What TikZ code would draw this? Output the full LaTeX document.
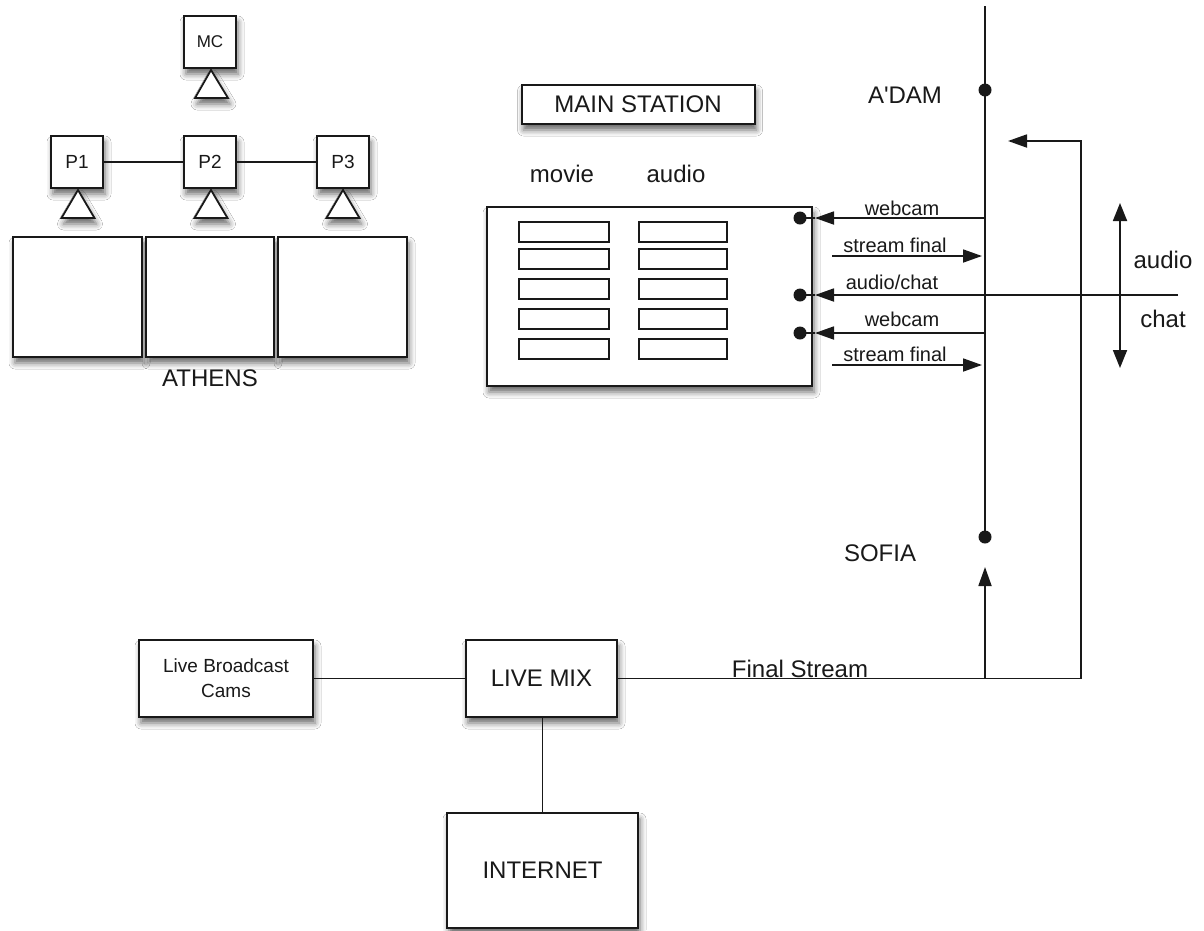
\documentclass[tikz,border=0pt]{standalone}
\usepackage{fontspec}
\setmainfont{Liberation Sans}
\newfontfamily\rawsans{Liberation Sans}[Ligatures=TeXOff]
\usetikzlibrary{arrows.meta,shadows.blur}
\begin{document}
\begin{tikzpicture}[x=1pt,y=-1pt,
  shade box/.style={blur shadow={shadow xshift=2pt,shadow yshift=-6pt,shadow blur radius=6pt,shadow opacity=60}},
  box/.style={draw=black!90,fill=white,line width=2pt,inner sep=0pt,shade box,text=black!90},
  slot/.style={draw=black!90,fill=white,line width=1.8pt,inner sep=0pt,minimum width=#1,minimum height=20pt},
  tri/.style={draw=black!90,fill=white,line width=1.8pt,line join=miter,shade box},
  wire/.style={draw=black!90,line width=1.8pt},
  arr/.style={wire,-{Triangle[length=19pt,width=13pt]}},
  dbl/.style={wire,{Triangle[length=18pt,width=14pt]}-{Triangle[length=18pt,width=14pt]}},
  dot/.style={fill=black!90},
  big/.style={font=\fontsize{24}{28}\selectfont,text=black!90,inner sep=0pt},
  small/.style={font=\fontsize{20}{23}\selectfont,text=black!90,inner sep=0pt},
]
% canvas
\path[use as bounding box,fill=white] (0,0) rectangle (1204,930);

% ---------------- Athens group ----------------
\node[box,minimum width=52pt,minimum height=52pt,font=\fontsize{17}{20}\selectfont] (mc) at (210,42) {MC};
\draw[tri] (211,70) -- (228,98) -- (195,98) -- cycle;

\node[box,minimum width=52pt,minimum height=52pt,font=\fontsize{19}{22}\selectfont] (p1) at (77,162) {P1};
\node[box,minimum width=52pt,minimum height=52pt,font=\fontsize{19}{22}\selectfont] (p2) at (210,162) {P2};
\node[box,minimum width=52pt,minimum height=52pt,font=\fontsize{19}{22}\selectfont] (p3) at (343,162) {P3};
\draw[wire] (p1) -- (p2);
\draw[wire] (p2) -- (p3);
\foreach \cx in {78,211,343}{
  \draw[tri] (\cx,190) -- (\cx+16.5,218) -- (\cx-16.5,218) -- cycle;
}

\node[box,minimum width=129pt,minimum height=120pt] (screen1) at (77.5,297) {};
\node[box,minimum width=128pt,minimum height=120pt] (screen2) at (210,297) {};
\node[box,minimum width=129pt,minimum height=120pt] (screen3) at (342.5,297) {};
\node[big,anchor=base] (athens) at (210,386) {ATHENS};

% ---------------- Main station ----------------
\node[box,minimum width=233pt,minimum height=39pt,font=\fontsize{24}{28}\selectfont] (title) at (638,104.5) {MAIN STATION};
\node[big,anchor=base] (movie) at (562,182) {movie};
\node[big,anchor=base] (audiocol) at (676,182) {audio};

\node[box,minimum width=325pt,minimum height=179pt] (station) at (649.5,296.5) {};
\foreach \ry [count=\i] in {232,259,289,319,349}{
  \node[slot=90pt] (movie\i) at (564,\ry) {};
  \node[slot=88pt] (audio\i) at (683,\ry) {};
}

% ports on the station box
\coordinate (d1) at (800,218);
\coordinate (d2) at (800,295);
\coordinate (d3) at (800,333);
\foreach \d in {d1,d2,d3}{ \fill[dot] (\d) circle (6.5pt); }

% ---------------- Backbone ----------------
\coordinate (top) at (985,6);
\coordinate (adam) at (985,90);
\coordinate (sofia) at (985,537);
\draw[wire] (top) -- (sofia);
\fill[dot] (adam) circle (6.5pt);
\fill[dot] (sofia) circle (6.5pt);
\node[big,anchor=base,font=\rawsans\fontsize{24}{28}\selectfont] (adamlbl) at (905,103) {A'DAM};
\node[big,anchor=base] (sofialbl) at (880,561) {SOFIA};

% webcam (upper)
\coordinate (w1) at (985,218);
\coordinate (t1) at (815,218);
\draw[arr] (w1) -- (t1);
\draw[wire] (t1) -- (d1);
\node[small,anchor=base] (lw1) at (902,215) {webcam};

% stream final (upper)
\coordinate (s1a) at (832,256);
\coordinate (s1b) at (982,256);
\draw[arr] (s1a) -- (s1b);
\node[small,anchor=base] (ls1) at (895,252) {stream final};

% audio/chat
\coordinate (ac) at (1178,295);
\coordinate (t2) at (815,295);
\draw[arr] (ac) -- (t2);
\draw[wire] (t2) -- (d2);
\node[small,anchor=base] (lac) at (892,289) {audio/chat};

% webcam (lower)
\coordinate (w2) at (985,333);
\coordinate (t3) at (815,333);
\draw[arr] (w2) -- (t3);
\draw[wire] (t3) -- (d3);
\node[small,anchor=base] (lw2) at (902,326) {webcam};

% stream final (lower)
\coordinate (s2a) at (832,365);
\coordinate (s2b) at (982,365);
\draw[arr] (s2a) -- (s2b);
\node[small,anchor=base] (ls2) at (895,361) {stream final};

% audio / chat both ways
\coordinate (upA) at (1120,203);
\coordinate (dnA) at (1120,368);
\draw[dbl] (dnA) -- (upA);
\node[big,anchor=base] (laudio) at (1163,268) {audio};
\node[big,anchor=base] (lchat) at (1163,327) {chat};

% ---------------- Live production ----------------
\node[box,minimum width=174pt,minimum height=77pt,align=center,font=\fontsize{19}{25}\selectfont] (cams) at (226,678.5) {Live Broadcast\\Cams};
\node[box,minimum width=151pt,minimum height=77pt,font=\fontsize{24}{28}\selectfont] (mix) at (541.5,678.5) {LIVE MIX};
\node[box,minimum width=191pt,minimum height=115pt,font=\fontsize{24}{28}\selectfont] (net) at (542.5,870.5) {INTERNET};
\draw[wire] (cams) -- (mix);
\draw[wire] (mix.south -| net.north) -- (net.north);

% final stream out to the backbone
\coordinate (fs) at (985,678.5);
\coordinate (corner) at (1081,678.5);
\coordinate (back) at (1081,141);
\coordinate (backtip) at (1008,141);
\coordinate (sofiatip) at (985,567);
\draw[wire] (mix.east) -- (corner);
\draw[arr] (corner) -- (back) -- (backtip);
\draw[arr] (fs) -- (sofiatip);
\node[big,anchor=base] (lfinal) at (800,677) {Final Stream};
\end{tikzpicture}
\end{document}
